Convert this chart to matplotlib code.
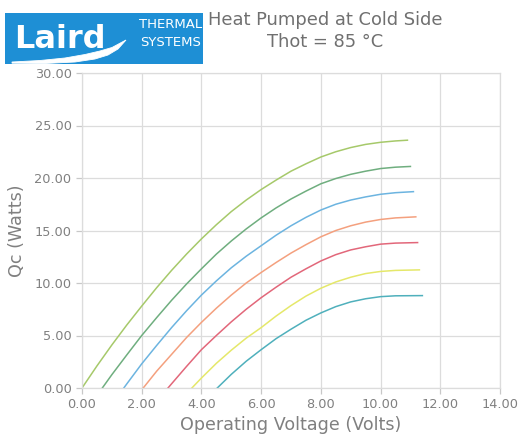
import matplotlib
matplotlib.use("Agg")
import matplotlib.pyplot as plt
from matplotlib.patches import Rectangle, Polygon
from matplotlib.ticker import FormatStrFormatter

# Qc (W) vs operating voltage (V), one curve per ΔT
v1 = [0.0, 0.5, 1.0, 1.5, 2.0, 2.5, 3.0, 3.5, 4.0, 4.5, 5.0, 5.5, 6.0, 6.5, 7.0,
      7.5, 8.0, 8.5, 9.0, 9.5, 10.0, 10.5, 10.9]
q1 = [0.0, 2.1, 4.1, 6.0, 7.8, 9.55, 11.2, 12.75, 14.2, 15.55, 16.8, 17.9, 18.9, 19.8, 20.65,
      21.35, 22.0, 22.5, 22.9, 23.2, 23.4, 23.53, 23.6]

v2 = [0.68, 1.0, 1.5, 2.0, 2.5, 3.0, 3.5, 4.0, 4.5, 5.0, 5.5, 6.0, 6.5, 7.0, 7.5,
      8.0, 8.5, 9.0, 9.5, 10.0, 10.5, 11.0]
q2 = [0.0, 1.27, 3.15, 5.0, 6.7, 8.35, 9.9, 11.35, 12.75, 14.0, 15.15, 16.2, 17.15, 18.0, 18.75,
      19.45, 19.95, 20.35, 20.65, 20.9, 21.03, 21.1]

v3 = [1.4, 1.5, 2.0, 2.5, 3.0, 3.5, 4.0, 4.5, 5.0, 5.5, 6.0, 6.5, 7.0, 7.5, 8.0,
      8.5, 9.0, 9.5, 10.0, 10.5, 11.1]
q3 = [0.0, 0.39, 2.3, 4.05, 5.75, 7.35, 8.85, 10.2, 11.45, 12.55, 13.55, 14.55, 15.45, 16.25, 16.95,
      17.5, 17.9, 18.2, 18.45, 18.6, 18.7]

v4 = [2.05, 2.5, 3.0, 3.5, 4.0, 4.5, 5.0, 5.5, 6.0, 6.5, 7.0, 7.5, 8.0, 8.5, 9.0,
      9.5, 10.0, 10.5, 11.18]
q4 = [0.0, 1.6, 3.2, 4.8, 6.25, 7.6, 8.85, 10.0, 11.0, 11.95, 12.85, 13.65, 14.4, 15.0, 15.45,
      15.8, 16.05, 16.2, 16.3]

v5 = [2.88, 3.0, 3.5, 4.0, 4.5, 5.0, 5.5, 6.0, 6.5, 7.0, 7.5, 8.0, 8.5, 9.0, 9.5,
      10.0, 10.5, 11.24]
q5 = [0.0, 0.4, 2.05, 3.65, 5.0, 6.3, 7.5, 8.6, 9.6, 10.55, 11.35, 12.1, 12.7, 13.15, 13.45,
      13.7, 13.8, 13.85]

v6 = [3.68, 4.0, 4.5, 5.0, 5.5, 6.0, 6.5, 7.0, 7.5, 8.0, 8.5, 9.0, 9.5, 10.0, 10.5, 11.3]
q6 = [0.0, 0.95, 2.35, 3.6, 4.75, 5.75, 6.85, 7.85, 8.75, 9.5, 10.1, 10.55, 10.9, 11.1, 11.2, 11.25]

v7 = [4.53, 5.0, 5.5, 6.0, 6.5, 7.0, 7.5, 8.0, 8.5, 9.0, 9.5, 10.0, 10.5, 11.4]
q7 = [0.0, 1.3, 2.55, 3.65, 4.7, 5.6, 6.45, 7.15, 7.75, 8.2, 8.5, 8.7, 8.78, 8.8]

series = [(v1, q1), (v2, q2), (v3, q3), (v4, q4), (v5, q5), (v6, q6), (v7, q7)]
colors = ['#a6c96a', '#6fae7f', '#6cb4e0', '#f4a07e', '#e2677a', '#e5e86a', '#4fb0bc']

W, H = 531, 442
fig = plt.figure(figsize=(W / 100, H / 100), dpi=100)

def fx(px):
    return px / W

def fy(py):
    return 1 - py / H

ax = fig.add_axes([fx(82), fy(388), fx(500) - fx(82), fy(73) - fy(388)])

for (v, q), c in zip(series, colors):
    ax.plot(v, q, color=c, lw=1.1, solid_joinstyle='round')

ax.set_xlim(0, 14)
ax.set_ylim(0, 30)
ax.set_xticks(range(0, 15, 2))
ax.set_yticks(range(0, 31, 5))
ax.xaxis.set_major_formatter(FormatStrFormatter('%.2f'))
ax.yaxis.set_major_formatter(FormatStrFormatter('%.2f'))
ax.grid(True, color='#dcdcdc', lw=0.9)
ax.set_axisbelow(True)
for s in ax.spines.values():
    s.set_color('#dcdcdc')
    s.set_linewidth(0.9)
ax.tick_params(colors='#c8c8c8', labelcolor='#808080', labelsize=9.3, length=4, width=0.9)

ax.set_xlabel('Operating Voltage (Volts)', fontsize=12.6, color='#808080', labelpad=3)
ax.set_ylabel('Qc (Watts)', fontsize=12.6, color='#808080', labelpad=6)

# title
fig.text(fx(325), fy(20), 'Heat Pumped at Cold Side', ha='center', va='center',
         fontsize=12.9, color='#707070')
fig.text(fx(325), fy(42), 'Thot = 85 °C', ha='center', va='center',
         fontsize=12.9, color='#707070')

# logo block
fig.patches.append(Rectangle((fx(5), fy(64)), fx(203) - fx(5), fy(13) - fy(64),
                             transform=fig.transFigure, facecolor='#1e8fd5',
                             edgecolor='none'))
fig.text(fx(14), fy(48), 'Laird', ha='left', va='baseline', fontsize=23,
         fontweight='bold', color='white')
swoosh = [(12, 62), (40, 60.5), (65, 58), (85, 54.5), (100, 51), (112, 47.5), (126, 40),
          (118, 49), (108, 55), (95, 59), (75, 62), (45, 63.5), (12, 63.2)]
fig.patches.append(Polygon([(fx(a), fy(b)) for a, b in swoosh], closed=True,
                           transform=fig.transFigure, facecolor='white', edgecolor='white',
                           lw=0.6))
fig.text(fx(171), fy(25), 'THERMAL', ha='center', va='center', fontsize=9.5,
         color='white', family=['Liberation Sans Narrow', 'DejaVu Sans'])
fig.text(fx(171), fy(43), 'SYSTEMS', ha='center', va='center', fontsize=9.5,
         color='white', family=['Liberation Sans Narrow', 'DejaVu Sans'])

fig.savefig('out.png', dpi=100)
